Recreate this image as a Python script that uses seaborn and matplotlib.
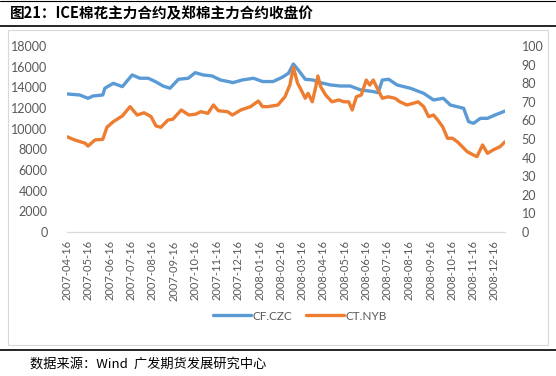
import pandas as pd
import numpy as np
import matplotlib
matplotlib.use("Agg")
import matplotlib.pyplot as plt
import matplotlib.dates as mdates
import seaborn as sns

# CF.CZC (left axis, yuan/t)
cf_dates = ["2007-04-16", "2007-05-04", "2007-05-16", "2007-05-23", "2007-06-06", "2007-06-09",
            "2007-06-21", "2007-07-04", "2007-07-18", "2007-07-29", "2007-08-10", "2007-08-20",
            "2007-08-31", "2007-09-10", "2007-09-22", "2007-10-06", "2007-10-16", "2007-10-27",
            "2007-11-09", "2007-11-21", "2007-12-09", "2007-12-22", "2008-01-07", "2008-01-20",
            "2008-02-04", "2008-02-17", "2008-02-26", "2008-03-04", "2008-03-11", "2008-03-21",
            "2008-04-01", "2008-04-11", "2008-04-26", "2008-05-10", "2008-05-24", "2008-06-08",
            "2008-06-26", "2008-07-03", "2008-07-09", "2008-07-18", "2008-07-30", "2008-08-18",
            "2008-09-06", "2008-09-20", "2008-10-04", "2008-10-14", "2008-11-02", "2008-11-09",
            "2008-11-16", "2008-11-26", "2008-12-06", "2008-12-17", "2008-12-31"]
cf_values = [13360, 13260, 12940, 13160, 13260, 13910,
             14390, 14070, 15200, 14880, 14880, 14560,
             14130, 13910, 14780, 14880, 15420, 15200,
             15100, 14710, 14460, 14710, 14880, 14560,
             14560, 14970, 15360, 16260, 15680, 14780,
             14710, 14460, 14230, 14130, 14130, 13750,
             13590, 13490, 14710, 14780, 14230, 13910,
             13420, 12780, 12940, 12290, 11970, 10680,
             10520, 11000, 11000, 11330, 11700]

# CT.NYB (right axis, cents/lb)
ct_dates = ["2007-04-16", "2007-04-27", "2007-05-12", "2007-05-16", "2007-05-26", "2007-06-06",
            "2007-06-12", "2007-06-21", "2007-07-04", "2007-07-15", "2007-07-25", "2007-08-04",
            "2007-08-14", "2007-08-21", "2007-08-28", "2007-09-07", "2007-09-14", "2007-09-26",
            "2007-10-07", "2007-10-17", "2007-10-24", "2007-11-03", "2007-11-11", "2007-11-18",
            "2007-12-01", "2007-12-08", "2007-12-20", "2008-01-03", "2008-01-14", "2008-01-20",
            "2008-01-28", "2008-02-11", "2008-02-21", "2008-02-28", "2008-03-04", "2008-03-10",
            "2008-03-14", "2008-03-21", "2008-03-25", "2008-03-31", "2008-04-05", "2008-04-08",
            "2008-04-12", "2008-04-19", "2008-04-28", "2008-05-08", "2008-05-15", "2008-05-22",
            "2008-05-27", "2008-06-02", "2008-06-09", "2008-06-16", "2008-06-21", "2008-06-26",
            "2008-07-03", "2008-07-09", "2008-07-17", "2008-07-27", "2008-08-03", "2008-08-13",
            "2008-08-22", "2008-08-29", "2008-09-06", "2008-09-13", "2008-09-20", "2008-09-26",
            "2008-10-03", "2008-10-10", "2008-10-17", "2008-10-24", "2008-10-31", "2008-11-07",
            "2008-11-16", "2008-11-21", "2008-11-29", "2008-12-06", "2008-12-14", "2008-12-24",
            "2008-12-31"]
ct_values = [51.2, 49.5, 47.7, 46.2, 49.5, 49.8,
             56.3, 59.3, 62.4, 67.4, 62.9, 64.1,
             62.0, 57.0, 56.3, 60.2, 60.6, 65.6,
             62.9, 63.4, 64.7, 63.8, 68.3, 65.2,
             64.7, 62.9, 65.6, 67.4, 70.4, 67.4,
             67.4, 68.3, 72.7, 79.0, 88.5, 80.0,
             77.2, 71.9, 74.6, 70.0, 78.1, 83.9,
             78.1, 73.7, 70.0, 71.0, 70.0, 70.0,
             65.6, 72.7, 73.7, 81.7, 79.0, 81.7,
             76.3, 71.9, 72.7, 71.9, 70.0, 68.3,
             69.2, 70.0, 67.4, 62.0, 62.9, 60.2,
             56.6, 50.4, 50.4, 48.5, 45.9, 43.2,
             41.4, 40.5, 46.8, 42.3, 44.1, 45.9,
             48.5]

tick_labels = pd.date_range("2007-04-16", "2008-12-16", freq=pd.DateOffset(months=1))

cf = pd.DataFrame({"date": pd.to_datetime(cf_dates), "value": cf_values})
ct = pd.DataFrame({"date": pd.to_datetime(ct_dates), "value": ct_values})

sns.set_style("white")
plt.rcParams["font.family"] = ["Lato", "DejaVu Sans"]

blue = "#5B9BD5"
orange = "#ED7D31"
grey = "#595959"

fig = plt.figure(figsize=(5.56, 3.76), dpi=100)

# frame lines and panel
fig.add_artist(plt.Line2D([0, 1], [0.997, 0.997], color="black", lw=0.8))
fig.add_artist(plt.Line2D([0, 1], [1 - 26 / 376, 1 - 26 / 376], color="black", lw=1.2))
fig.add_artist(plt.Line2D([0, 1], [1 - 350 / 376, 1 - 350 / 376], color="black", lw=1.2))
fig.add_artist(plt.Rectangle((8 / 556, 1 - 345 / 376), 540 / 556, 315 / 376,
                             fill=False, edgecolor="#D9D9D9", lw=0.8))

fig.text(10 / 556, 1 - 13 / 376, "图21：ICE棉花主力合约及郑棉主力合约收盘价",
         family=["Noto Sans CJK SC", "DejaVu Sans"], fontsize=10.5, fontweight="bold",
         va="center", ha="left", color="black")
fig.text(30 / 556, 1 - 364 / 376, "数据来源：Wind  广发期货发展研究中心",
         family=["Noto Sans CJK SC", "DejaVu Sans"], fontsize=9.5,
         va="center", ha="left", color="black")

ax = fig.add_axes([67 / 556, 1 - 232 / 376, 438 / 556, 186 / 376])
ax2 = ax.twinx()

sns.lineplot(data=cf, x="date", y="value", ax=ax, color=blue, lw=2.4, label="CF.CZC", legend=False)
sns.lineplot(data=ct, x="date", y="value", ax=ax2, color=orange, lw=2.4, label="CT.NYB", legend=False)

ax.set_ylim(0, 18000)
ax.set_yticks(np.arange(0, 18001, 2000))
ax2.set_ylim(0, 100)
ax2.set_yticks(np.arange(0, 101, 10))
ax.set_xlim(pd.Timestamp("2007-04-16"), pd.Timestamp("2008-12-31"))
ax.set_xticks(tick_labels)
ax.xaxis.set_major_formatter(mdates.DateFormatter("%Y-%m-%d"))

for a in (ax, ax2):
    a.set_xlabel("")
    a.set_ylabel("")
    for s in a.spines.values():
        s.set_visible(False)
    a.spines["bottom"].set_visible(True)
    a.spines["bottom"].set_color("#D9D9D9")
    a.patch.set_alpha(0)

ax.tick_params(axis="x", rotation=90, labelsize=8, colors=grey, length=4, width=0.8,
               direction="out", color="#D9D9D9", pad=2)
ax.tick_params(axis="y", labelsize=9, colors=grey, length=0, pad=14)
ax2.tick_params(axis="y", labelsize=9, colors=grey, length=0, pad=12)

h1, l1 = ax.get_legend_handles_labels()
h2, l2 = ax2.get_legend_handles_labels()
fig.legend(h1 + h2, l1 + l2, loc="center", bbox_to_anchor=(300 / 556, 1 - 316 / 376),
           ncol=2, frameon=False, fontsize=8.5, handlelength=3.2, columnspacing=1.2,
           handletextpad=0.1, labelcolor=grey)

fig.savefig("out.png", dpi=100)
